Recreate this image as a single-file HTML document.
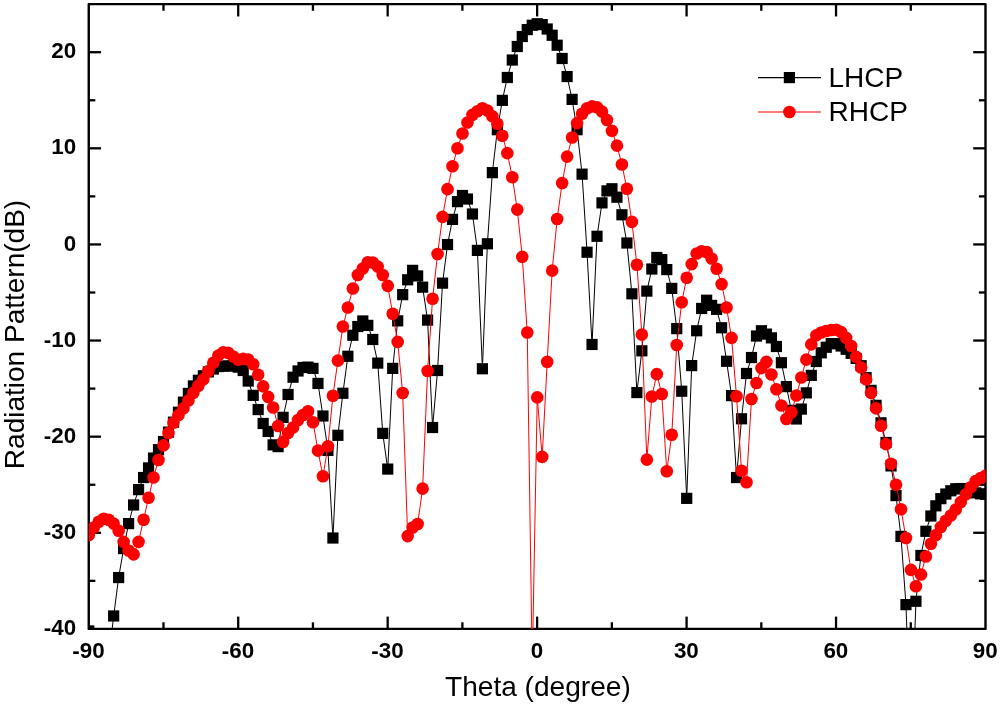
<!DOCTYPE html>
<html><head><meta charset="utf-8"><title>Radiation Pattern</title>
<style>html,body{margin:0;padding:0;background:#fff}svg{display:block}text{font-family:"Liberation Sans",Arial,sans-serif}</style></head><body>
<svg width="1000" height="704" viewBox="0 0 1000 704">
<rect width="1000" height="704" fill="#fff"/>
<defs><clipPath id="c"><rect x="88.75" y="4.15" width="896.75" height="624.75"/></clipPath></defs>
<rect x="88.75" y="4.15" width="896.75" height="624.75" fill="none" stroke="#000" stroke-width="2.4" stroke-linejoin="round"/>
<g stroke="#000" stroke-width="2.3"><line x1="163.48" y1="628.90" x2="163.48" y2="622.30"/><line x1="163.48" y1="4.15" x2="163.48" y2="10.75"/><line x1="238.21" y1="628.90" x2="238.21" y2="616.60"/><line x1="238.21" y1="4.15" x2="238.21" y2="16.45"/><line x1="312.94" y1="628.90" x2="312.94" y2="622.30"/><line x1="312.94" y1="4.15" x2="312.94" y2="10.75"/><line x1="387.67" y1="628.90" x2="387.67" y2="616.60"/><line x1="387.67" y1="4.15" x2="387.67" y2="16.45"/><line x1="462.40" y1="628.90" x2="462.40" y2="622.30"/><line x1="462.40" y1="4.15" x2="462.40" y2="10.75"/><line x1="537.12" y1="628.90" x2="537.12" y2="616.60"/><line x1="537.12" y1="4.15" x2="537.12" y2="16.45"/><line x1="611.85" y1="628.90" x2="611.85" y2="622.30"/><line x1="611.85" y1="4.15" x2="611.85" y2="10.75"/><line x1="686.58" y1="628.90" x2="686.58" y2="616.60"/><line x1="686.58" y1="4.15" x2="686.58" y2="16.45"/><line x1="761.31" y1="628.90" x2="761.31" y2="622.30"/><line x1="761.31" y1="4.15" x2="761.31" y2="10.75"/><line x1="836.04" y1="628.90" x2="836.04" y2="616.60"/><line x1="836.04" y1="4.15" x2="836.04" y2="16.45"/><line x1="910.77" y1="628.90" x2="910.77" y2="622.30"/><line x1="910.77" y1="4.15" x2="910.77" y2="10.75"/><line x1="88.75" y1="580.84" x2="95.35" y2="580.84"/><line x1="985.50" y1="580.84" x2="978.90" y2="580.84"/><line x1="88.75" y1="532.78" x2="101.05" y2="532.78"/><line x1="985.50" y1="532.78" x2="973.20" y2="532.78"/><line x1="88.75" y1="484.73" x2="95.35" y2="484.73"/><line x1="985.50" y1="484.73" x2="978.90" y2="484.73"/><line x1="88.75" y1="436.67" x2="101.05" y2="436.67"/><line x1="985.50" y1="436.67" x2="973.20" y2="436.67"/><line x1="88.75" y1="388.61" x2="95.35" y2="388.61"/><line x1="985.50" y1="388.61" x2="978.90" y2="388.61"/><line x1="88.75" y1="340.55" x2="101.05" y2="340.55"/><line x1="985.50" y1="340.55" x2="973.20" y2="340.55"/><line x1="88.75" y1="292.50" x2="95.35" y2="292.50"/><line x1="985.50" y1="292.50" x2="978.90" y2="292.50"/><line x1="88.75" y1="244.44" x2="101.05" y2="244.44"/><line x1="985.50" y1="244.44" x2="973.20" y2="244.44"/><line x1="88.75" y1="196.38" x2="95.35" y2="196.38"/><line x1="985.50" y1="196.38" x2="978.90" y2="196.38"/><line x1="88.75" y1="148.32" x2="101.05" y2="148.32"/><line x1="985.50" y1="148.32" x2="973.20" y2="148.32"/><line x1="88.75" y1="100.27" x2="95.35" y2="100.27"/><line x1="985.50" y1="100.27" x2="978.90" y2="100.27"/><line x1="88.75" y1="52.21" x2="101.05" y2="52.21"/><line x1="985.50" y1="52.21" x2="973.20" y2="52.21"/></g>
<g clip-path="url(#c)">
<polyline points="88.75,630.94 93.73,724.25 98.72,724.25 103.70,724.25 108.68,658.97 113.66,615.96 118.65,577.56 123.63,548.57 128.61,523.61 133.60,504.99 138.58,489.63 143.56,477.53 148.55,467.93 153.53,458.04 158.51,449.69 163.50,441.53 168.48,432.12 173.46,422.14 178.44,412.25 183.43,402.17 188.41,393.43 193.39,385.95 198.38,380.28 203.36,375.77 208.34,371.93 213.32,369.05 218.31,366.55 223.29,366.17 228.27,365.98 233.26,365.79 238.24,367.13 243.22,370.49 248.21,381.05 253.19,395.35 258.17,409.56 263.15,423.48 268.14,431.45 273.12,444.89 278.10,446.62 283.09,417.34 288.07,394.49 293.05,377.21 298.04,370.97 303.02,367.51 308.00,367.13 312.99,368.38 317.97,383.45 322.95,415.99 327.93,450.36 332.92,538.01 337.90,435.29 342.88,393.24 347.87,356.28 352.85,335.26 357.83,326.52 362.81,320.95 367.80,325.37 372.78,339.48 377.76,363.10 382.75,433.37 387.73,469.08 392.71,368.38 397.70,320.86 402.68,294.65 407.66,279.77 412.64,270.36 417.63,275.93 422.61,287.16 427.59,320.09 432.58,427.51 437.56,370.49 442.54,283.13 447.53,244.54 452.51,219.39 457.49,201.63 462.47,195.48 467.46,199.03 472.44,214.01 477.42,250.39 482.41,368.76 487.39,243.77 492.37,172.63 497.36,129.72 502.34,100.35 507.32,77.50 512.30,60.03 517.29,46.49 522.27,36.51 527.25,29.59 532.24,25.27 537.22,23.74 542.20,24.60 547.19,29.02 552.17,35.26 557.15,45.24 562.13,58.49 567.12,76.54 572.10,99.39 577.08,129.72 582.07,174.17 587.05,252.22 592.03,344.47 597.02,236.28 602.00,202.87 606.98,190.87 611.96,188.76 616.95,197.21 621.93,214.78 626.91,243.00 631.90,293.79 636.88,392.57 641.86,350.81 646.85,291.10 651.83,269.02 656.81,257.50 661.79,259.61 666.78,269.59 671.76,288.41 676.74,328.63 681.73,391.23 686.71,498.36 691.69,365.59 696.68,330.75 701.66,308.47 706.64,300.22 711.62,305.40 716.61,309.34 721.59,327.77 726.57,361.27 731.56,395.64 736.54,477.53 741.52,418.78 746.51,373.47 751.49,357.53 756.47,336.03 761.45,330.75 766.44,334.11 771.42,337.85 776.40,346.49 781.39,362.71 786.37,386.62 791.35,410.33 796.34,418.97 801.32,409.08 806.30,392.86 811.28,375.39 816.27,361.47 821.25,352.83 826.23,347.26 831.22,343.61 836.20,343.61 841.18,346.01 846.17,349.27 851.15,353.31 856.13,358.49 861.11,365.69 866.10,377.59 871.08,390.36 876.06,405.34 881.05,422.81 886.03,442.49 891.01,465.91 896.00,495.58 900.98,536.38 905.96,604.63 910.94,743.45 915.93,601.27 920.91,555.48 925.89,531.29 930.88,516.03 935.86,505.85 940.84,498.65 945.83,494.04 950.81,490.78 955.79,488.76 960.77,488.57 965.76,489.05 970.74,490.49 975.72,492.89 980.71,493.85 985.69,494.33" fill="none" stroke="#000" stroke-width="1" stroke-linejoin="round"/>
<g fill="#000"><rect x="83.15" y="625.34" width="11.2" height="11.2"/><rect x="108.06" y="610.36" width="11.2" height="11.2"/><rect x="113.05" y="571.96" width="11.2" height="11.2"/><rect x="118.03" y="542.97" width="11.2" height="11.2"/><rect x="123.01" y="518.01" width="11.2" height="11.2"/><rect x="128.00" y="499.39" width="11.2" height="11.2"/><rect x="132.98" y="484.03" width="11.2" height="11.2"/><rect x="137.96" y="471.93" width="11.2" height="11.2"/><rect x="142.95" y="462.33" width="11.2" height="11.2"/><rect x="147.93" y="452.44" width="11.2" height="11.2"/><rect x="152.91" y="444.09" width="11.2" height="11.2"/><rect x="157.90" y="435.93" width="11.2" height="11.2"/><rect x="162.88" y="426.52" width="11.2" height="11.2"/><rect x="167.86" y="416.54" width="11.2" height="11.2"/><rect x="172.84" y="406.65" width="11.2" height="11.2"/><rect x="177.83" y="396.57" width="11.2" height="11.2"/><rect x="182.81" y="387.83" width="11.2" height="11.2"/><rect x="187.79" y="380.35" width="11.2" height="11.2"/><rect x="192.78" y="374.68" width="11.2" height="11.2"/><rect x="197.76" y="370.17" width="11.2" height="11.2"/><rect x="202.74" y="366.33" width="11.2" height="11.2"/><rect x="207.72" y="363.45" width="11.2" height="11.2"/><rect x="212.71" y="360.95" width="11.2" height="11.2"/><rect x="217.69" y="360.57" width="11.2" height="11.2"/><rect x="222.67" y="360.38" width="11.2" height="11.2"/><rect x="227.66" y="360.19" width="11.2" height="11.2"/><rect x="232.64" y="361.53" width="11.2" height="11.2"/><rect x="237.62" y="364.89" width="11.2" height="11.2"/><rect x="242.61" y="375.45" width="11.2" height="11.2"/><rect x="247.59" y="389.75" width="11.2" height="11.2"/><rect x="252.57" y="403.96" width="11.2" height="11.2"/><rect x="257.55" y="417.88" width="11.2" height="11.2"/><rect x="262.54" y="425.85" width="11.2" height="11.2"/><rect x="267.52" y="439.29" width="11.2" height="11.2"/><rect x="272.50" y="441.02" width="11.2" height="11.2"/><rect x="277.49" y="411.74" width="11.2" height="11.2"/><rect x="282.47" y="388.89" width="11.2" height="11.2"/><rect x="287.45" y="371.61" width="11.2" height="11.2"/><rect x="292.44" y="365.37" width="11.2" height="11.2"/><rect x="297.42" y="361.91" width="11.2" height="11.2"/><rect x="302.40" y="361.53" width="11.2" height="11.2"/><rect x="307.38" y="362.78" width="11.2" height="11.2"/><rect x="312.37" y="377.85" width="11.2" height="11.2"/><rect x="317.35" y="410.39" width="11.2" height="11.2"/><rect x="322.33" y="444.76" width="11.2" height="11.2"/><rect x="327.32" y="532.41" width="11.2" height="11.2"/><rect x="332.30" y="429.69" width="11.2" height="11.2"/><rect x="337.28" y="387.64" width="11.2" height="11.2"/><rect x="342.27" y="350.68" width="11.2" height="11.2"/><rect x="347.25" y="329.66" width="11.2" height="11.2"/><rect x="352.23" y="320.92" width="11.2" height="11.2"/><rect x="357.21" y="315.35" width="11.2" height="11.2"/><rect x="362.20" y="319.77" width="11.2" height="11.2"/><rect x="367.18" y="333.88" width="11.2" height="11.2"/><rect x="372.16" y="357.50" width="11.2" height="11.2"/><rect x="377.15" y="427.77" width="11.2" height="11.2"/><rect x="382.13" y="463.48" width="11.2" height="11.2"/><rect x="387.11" y="362.78" width="11.2" height="11.2"/><rect x="392.10" y="315.26" width="11.2" height="11.2"/><rect x="397.08" y="289.05" width="11.2" height="11.2"/><rect x="402.06" y="274.17" width="11.2" height="11.2"/><rect x="407.04" y="264.76" width="11.2" height="11.2"/><rect x="412.03" y="270.33" width="11.2" height="11.2"/><rect x="417.01" y="281.56" width="11.2" height="11.2"/><rect x="421.99" y="314.49" width="11.2" height="11.2"/><rect x="426.98" y="421.91" width="11.2" height="11.2"/><rect x="431.96" y="364.89" width="11.2" height="11.2"/><rect x="436.94" y="277.53" width="11.2" height="11.2"/><rect x="441.93" y="238.94" width="11.2" height="11.2"/><rect x="446.91" y="213.79" width="11.2" height="11.2"/><rect x="451.89" y="196.03" width="11.2" height="11.2"/><rect x="456.87" y="189.88" width="11.2" height="11.2"/><rect x="461.86" y="193.43" width="11.2" height="11.2"/><rect x="466.84" y="208.41" width="11.2" height="11.2"/><rect x="471.82" y="244.79" width="11.2" height="11.2"/><rect x="476.81" y="363.16" width="11.2" height="11.2"/><rect x="481.79" y="238.17" width="11.2" height="11.2"/><rect x="486.77" y="167.03" width="11.2" height="11.2"/><rect x="491.76" y="124.12" width="11.2" height="11.2"/><rect x="496.74" y="94.75" width="11.2" height="11.2"/><rect x="501.72" y="71.90" width="11.2" height="11.2"/><rect x="506.70" y="54.43" width="11.2" height="11.2"/><rect x="511.69" y="40.89" width="11.2" height="11.2"/><rect x="516.67" y="30.91" width="11.2" height="11.2"/><rect x="521.65" y="23.99" width="11.2" height="11.2"/><rect x="526.64" y="19.67" width="11.2" height="11.2"/><rect x="531.62" y="18.14" width="11.2" height="11.2"/><rect x="536.60" y="19.00" width="11.2" height="11.2"/><rect x="541.59" y="23.42" width="11.2" height="11.2"/><rect x="546.57" y="29.66" width="11.2" height="11.2"/><rect x="551.55" y="39.64" width="11.2" height="11.2"/><rect x="556.53" y="52.89" width="11.2" height="11.2"/><rect x="561.52" y="70.94" width="11.2" height="11.2"/><rect x="566.50" y="93.79" width="11.2" height="11.2"/><rect x="571.48" y="124.12" width="11.2" height="11.2"/><rect x="576.47" y="168.57" width="11.2" height="11.2"/><rect x="581.45" y="246.62" width="11.2" height="11.2"/><rect x="586.43" y="338.87" width="11.2" height="11.2"/><rect x="591.42" y="230.68" width="11.2" height="11.2"/><rect x="596.40" y="197.27" width="11.2" height="11.2"/><rect x="601.38" y="185.27" width="11.2" height="11.2"/><rect x="606.36" y="183.16" width="11.2" height="11.2"/><rect x="611.35" y="191.61" width="11.2" height="11.2"/><rect x="616.33" y="209.18" width="11.2" height="11.2"/><rect x="621.31" y="237.40" width="11.2" height="11.2"/><rect x="626.30" y="288.19" width="11.2" height="11.2"/><rect x="631.28" y="386.97" width="11.2" height="11.2"/><rect x="636.26" y="345.21" width="11.2" height="11.2"/><rect x="641.25" y="285.50" width="11.2" height="11.2"/><rect x="646.23" y="263.42" width="11.2" height="11.2"/><rect x="651.21" y="251.90" width="11.2" height="11.2"/><rect x="656.19" y="254.01" width="11.2" height="11.2"/><rect x="661.18" y="263.99" width="11.2" height="11.2"/><rect x="666.16" y="282.81" width="11.2" height="11.2"/><rect x="671.14" y="323.03" width="11.2" height="11.2"/><rect x="676.13" y="385.63" width="11.2" height="11.2"/><rect x="681.11" y="492.76" width="11.2" height="11.2"/><rect x="686.09" y="359.99" width="11.2" height="11.2"/><rect x="691.08" y="325.15" width="11.2" height="11.2"/><rect x="696.06" y="302.87" width="11.2" height="11.2"/><rect x="701.04" y="294.62" width="11.2" height="11.2"/><rect x="706.02" y="299.80" width="11.2" height="11.2"/><rect x="711.01" y="303.74" width="11.2" height="11.2"/><rect x="715.99" y="322.17" width="11.2" height="11.2"/><rect x="720.97" y="355.67" width="11.2" height="11.2"/><rect x="725.96" y="390.04" width="11.2" height="11.2"/><rect x="730.94" y="471.93" width="11.2" height="11.2"/><rect x="735.92" y="413.18" width="11.2" height="11.2"/><rect x="740.91" y="367.87" width="11.2" height="11.2"/><rect x="745.89" y="351.93" width="11.2" height="11.2"/><rect x="750.87" y="330.43" width="11.2" height="11.2"/><rect x="755.85" y="325.15" width="11.2" height="11.2"/><rect x="760.84" y="328.51" width="11.2" height="11.2"/><rect x="765.82" y="332.25" width="11.2" height="11.2"/><rect x="770.80" y="340.89" width="11.2" height="11.2"/><rect x="775.79" y="357.11" width="11.2" height="11.2"/><rect x="780.77" y="381.02" width="11.2" height="11.2"/><rect x="785.75" y="404.73" width="11.2" height="11.2"/><rect x="790.74" y="413.37" width="11.2" height="11.2"/><rect x="795.72" y="403.48" width="11.2" height="11.2"/><rect x="800.70" y="387.26" width="11.2" height="11.2"/><rect x="805.68" y="369.79" width="11.2" height="11.2"/><rect x="810.67" y="355.87" width="11.2" height="11.2"/><rect x="815.65" y="347.23" width="11.2" height="11.2"/><rect x="820.63" y="341.66" width="11.2" height="11.2"/><rect x="825.62" y="338.01" width="11.2" height="11.2"/><rect x="830.60" y="338.01" width="11.2" height="11.2"/><rect x="835.58" y="340.41" width="11.2" height="11.2"/><rect x="840.57" y="343.67" width="11.2" height="11.2"/><rect x="845.55" y="347.71" width="11.2" height="11.2"/><rect x="850.53" y="352.89" width="11.2" height="11.2"/><rect x="855.51" y="360.09" width="11.2" height="11.2"/><rect x="860.50" y="371.99" width="11.2" height="11.2"/><rect x="865.48" y="384.76" width="11.2" height="11.2"/><rect x="870.46" y="399.74" width="11.2" height="11.2"/><rect x="875.45" y="417.21" width="11.2" height="11.2"/><rect x="880.43" y="436.89" width="11.2" height="11.2"/><rect x="885.41" y="460.31" width="11.2" height="11.2"/><rect x="890.40" y="489.98" width="11.2" height="11.2"/><rect x="895.38" y="530.78" width="11.2" height="11.2"/><rect x="900.36" y="599.03" width="11.2" height="11.2"/><rect x="910.33" y="595.67" width="11.2" height="11.2"/><rect x="915.31" y="549.88" width="11.2" height="11.2"/><rect x="920.29" y="525.69" width="11.2" height="11.2"/><rect x="925.28" y="510.43" width="11.2" height="11.2"/><rect x="930.26" y="500.25" width="11.2" height="11.2"/><rect x="935.24" y="493.05" width="11.2" height="11.2"/><rect x="940.23" y="488.44" width="11.2" height="11.2"/><rect x="945.21" y="485.18" width="11.2" height="11.2"/><rect x="950.19" y="483.16" width="11.2" height="11.2"/><rect x="955.17" y="482.97" width="11.2" height="11.2"/><rect x="960.16" y="483.45" width="11.2" height="11.2"/><rect x="965.14" y="484.89" width="11.2" height="11.2"/><rect x="970.12" y="487.29" width="11.2" height="11.2"/><rect x="975.11" y="488.25" width="11.2" height="11.2"/><rect x="980.09" y="488.73" width="11.2" height="11.2"/></g>
<polyline points="88.75,535.13 93.73,527.45 98.72,521.69 103.70,518.81 108.68,519.77 113.66,523.61 118.65,530.81 123.63,541.85 128.61,550.49 133.60,554.33 138.58,541.85 143.56,519.77 148.55,497.69 153.53,477.53 158.51,459.96 163.50,445.37 168.48,433.08 173.46,422.81 178.44,415.13 183.43,408.22 188.41,400.44 193.39,392.86 198.38,385.85 203.36,379.23 208.34,370.97 213.32,362.81 218.31,355.61 223.29,352.25 228.27,352.92 233.26,356.57 238.24,359.74 243.22,358.87 248.21,359.45 253.19,364.25 258.17,374.81 263.15,386.33 268.14,396.89 273.12,407.45 278.10,426.07 283.09,442.01 288.07,433.08 293.05,427.51 298.04,419.93 303.02,415.03 308.00,411.29 312.99,422.23 317.97,450.65 322.95,476.28 327.93,446.23 332.92,395.74 337.90,360.60 342.88,326.52 347.87,307.51 352.85,288.51 357.83,274.97 362.81,268.44 367.80,262.25 372.78,262.49 377.76,266.62 382.75,274.97 387.73,285.91 392.71,313.75 397.70,341.88 402.68,393.05 407.66,536.09 412.64,527.45 417.63,523.99 422.61,488.67 427.59,370.97 432.58,298.78 437.56,254.04 442.54,216.89 447.53,189.15 452.51,166.25 457.49,148.25 462.47,133.47 467.46,122.52 472.44,114.84 477.42,111.29 482.41,108.22 487.39,110.43 492.37,116.28 497.36,123.77 502.34,135.77 507.32,153.15 512.30,177.24 517.29,209.59 522.27,256.83 527.25,332.47 532.24,667.61 537.22,397.37 542.20,456.89 547.19,361.85 552.17,270.65 557.15,219.00 562.13,183.10 567.12,156.60 572.10,137.50 577.08,123.10 582.07,113.69 587.05,108.22 592.03,106.39 597.02,107.26 602.00,111.58 606.98,120.03 611.96,130.87 616.95,145.66 621.93,164.57 626.91,188.76 631.90,221.88 636.88,264.79 641.86,334.59 646.85,459.58 651.83,396.51 656.81,374.14 661.79,394.01 666.78,471.29 671.76,434.71 676.74,345.05 681.73,302.23 686.71,277.75 691.69,264.12 696.68,253.47 701.66,251.26 706.64,252.03 711.62,258.46 716.61,268.73 721.59,284.09 726.57,307.51 731.56,337.85 736.54,396.22 741.52,470.81 746.51,482.23 751.49,399.00 756.47,382.97 761.45,368.09 766.44,361.85 771.42,374.43 776.40,389.21 781.39,405.53 786.37,418.97 791.35,412.25 796.34,395.55 801.32,377.50 806.30,359.64 811.28,344.38 816.27,335.35 821.25,332.47 826.23,330.94 831.22,329.98 836.20,329.69 841.18,332.09 846.17,337.85 851.15,346.01 856.13,356.86 861.11,367.51 866.10,379.42 871.08,392.86 876.06,408.41 881.05,425.69 886.03,444.12 891.01,463.80 896.00,484.73 900.98,509.21 905.96,538.01 910.94,569.88 915.93,586.30 920.91,574.49 925.89,556.54 930.88,543.77 935.86,535.13 940.84,527.07 945.83,520.73 950.81,515.45 955.79,509.50 960.77,502.11 965.76,494.33 970.74,487.32 975.72,480.99 980.71,478.01 985.69,475.61" fill="none" stroke="#f00" stroke-width="1" stroke-linejoin="round"/>
<g fill="#f00"><circle cx="88.75" cy="535.13" r="6.3"/><circle cx="93.73" cy="527.45" r="6.3"/><circle cx="98.72" cy="521.69" r="6.3"/><circle cx="103.70" cy="518.81" r="6.3"/><circle cx="108.68" cy="519.77" r="6.3"/><circle cx="113.66" cy="523.61" r="6.3"/><circle cx="118.65" cy="530.81" r="6.3"/><circle cx="123.63" cy="541.85" r="6.3"/><circle cx="128.61" cy="550.49" r="6.3"/><circle cx="133.60" cy="554.33" r="6.3"/><circle cx="138.58" cy="541.85" r="6.3"/><circle cx="143.56" cy="519.77" r="6.3"/><circle cx="148.55" cy="497.69" r="6.3"/><circle cx="153.53" cy="477.53" r="6.3"/><circle cx="158.51" cy="459.96" r="6.3"/><circle cx="163.50" cy="445.37" r="6.3"/><circle cx="168.48" cy="433.08" r="6.3"/><circle cx="173.46" cy="422.81" r="6.3"/><circle cx="178.44" cy="415.13" r="6.3"/><circle cx="183.43" cy="408.22" r="6.3"/><circle cx="188.41" cy="400.44" r="6.3"/><circle cx="193.39" cy="392.86" r="6.3"/><circle cx="198.38" cy="385.85" r="6.3"/><circle cx="203.36" cy="379.23" r="6.3"/><circle cx="208.34" cy="370.97" r="6.3"/><circle cx="213.32" cy="362.81" r="6.3"/><circle cx="218.31" cy="355.61" r="6.3"/><circle cx="223.29" cy="352.25" r="6.3"/><circle cx="228.27" cy="352.92" r="6.3"/><circle cx="233.26" cy="356.57" r="6.3"/><circle cx="238.24" cy="359.74" r="6.3"/><circle cx="243.22" cy="358.87" r="6.3"/><circle cx="248.21" cy="359.45" r="6.3"/><circle cx="253.19" cy="364.25" r="6.3"/><circle cx="258.17" cy="374.81" r="6.3"/><circle cx="263.15" cy="386.33" r="6.3"/><circle cx="268.14" cy="396.89" r="6.3"/><circle cx="273.12" cy="407.45" r="6.3"/><circle cx="278.10" cy="426.07" r="6.3"/><circle cx="283.09" cy="442.01" r="6.3"/><circle cx="288.07" cy="433.08" r="6.3"/><circle cx="293.05" cy="427.51" r="6.3"/><circle cx="298.04" cy="419.93" r="6.3"/><circle cx="303.02" cy="415.03" r="6.3"/><circle cx="308.00" cy="411.29" r="6.3"/><circle cx="312.99" cy="422.23" r="6.3"/><circle cx="317.97" cy="450.65" r="6.3"/><circle cx="322.95" cy="476.28" r="6.3"/><circle cx="327.93" cy="446.23" r="6.3"/><circle cx="332.92" cy="395.74" r="6.3"/><circle cx="337.90" cy="360.60" r="6.3"/><circle cx="342.88" cy="326.52" r="6.3"/><circle cx="347.87" cy="307.51" r="6.3"/><circle cx="352.85" cy="288.51" r="6.3"/><circle cx="357.83" cy="274.97" r="6.3"/><circle cx="362.81" cy="268.44" r="6.3"/><circle cx="367.80" cy="262.25" r="6.3"/><circle cx="372.78" cy="262.49" r="6.3"/><circle cx="377.76" cy="266.62" r="6.3"/><circle cx="382.75" cy="274.97" r="6.3"/><circle cx="387.73" cy="285.91" r="6.3"/><circle cx="392.71" cy="313.75" r="6.3"/><circle cx="397.70" cy="341.88" r="6.3"/><circle cx="402.68" cy="393.05" r="6.3"/><circle cx="407.66" cy="536.09" r="6.3"/><circle cx="412.64" cy="527.45" r="6.3"/><circle cx="417.63" cy="523.99" r="6.3"/><circle cx="422.61" cy="488.67" r="6.3"/><circle cx="427.59" cy="370.97" r="6.3"/><circle cx="432.58" cy="298.78" r="6.3"/><circle cx="437.56" cy="254.04" r="6.3"/><circle cx="442.54" cy="216.89" r="6.3"/><circle cx="447.53" cy="189.15" r="6.3"/><circle cx="452.51" cy="166.25" r="6.3"/><circle cx="457.49" cy="148.25" r="6.3"/><circle cx="462.47" cy="133.47" r="6.3"/><circle cx="467.46" cy="122.52" r="6.3"/><circle cx="472.44" cy="114.84" r="6.3"/><circle cx="477.42" cy="111.29" r="6.3"/><circle cx="482.41" cy="108.22" r="6.3"/><circle cx="487.39" cy="110.43" r="6.3"/><circle cx="492.37" cy="116.28" r="6.3"/><circle cx="497.36" cy="123.77" r="6.3"/><circle cx="502.34" cy="135.77" r="6.3"/><circle cx="507.32" cy="153.15" r="6.3"/><circle cx="512.30" cy="177.24" r="6.3"/><circle cx="517.29" cy="209.59" r="6.3"/><circle cx="522.27" cy="256.83" r="6.3"/><circle cx="527.25" cy="332.47" r="6.3"/><circle cx="537.22" cy="397.37" r="6.3"/><circle cx="542.20" cy="456.89" r="6.3"/><circle cx="547.19" cy="361.85" r="6.3"/><circle cx="552.17" cy="270.65" r="6.3"/><circle cx="557.15" cy="219.00" r="6.3"/><circle cx="562.13" cy="183.10" r="6.3"/><circle cx="567.12" cy="156.60" r="6.3"/><circle cx="572.10" cy="137.50" r="6.3"/><circle cx="577.08" cy="123.10" r="6.3"/><circle cx="582.07" cy="113.69" r="6.3"/><circle cx="587.05" cy="108.22" r="6.3"/><circle cx="592.03" cy="106.39" r="6.3"/><circle cx="597.02" cy="107.26" r="6.3"/><circle cx="602.00" cy="111.58" r="6.3"/><circle cx="606.98" cy="120.03" r="6.3"/><circle cx="611.96" cy="130.87" r="6.3"/><circle cx="616.95" cy="145.66" r="6.3"/><circle cx="621.93" cy="164.57" r="6.3"/><circle cx="626.91" cy="188.76" r="6.3"/><circle cx="631.90" cy="221.88" r="6.3"/><circle cx="636.88" cy="264.79" r="6.3"/><circle cx="641.86" cy="334.59" r="6.3"/><circle cx="646.85" cy="459.58" r="6.3"/><circle cx="651.83" cy="396.51" r="6.3"/><circle cx="656.81" cy="374.14" r="6.3"/><circle cx="661.79" cy="394.01" r="6.3"/><circle cx="666.78" cy="471.29" r="6.3"/><circle cx="671.76" cy="434.71" r="6.3"/><circle cx="676.74" cy="345.05" r="6.3"/><circle cx="681.73" cy="302.23" r="6.3"/><circle cx="686.71" cy="277.75" r="6.3"/><circle cx="691.69" cy="264.12" r="6.3"/><circle cx="696.68" cy="253.47" r="6.3"/><circle cx="701.66" cy="251.26" r="6.3"/><circle cx="706.64" cy="252.03" r="6.3"/><circle cx="711.62" cy="258.46" r="6.3"/><circle cx="716.61" cy="268.73" r="6.3"/><circle cx="721.59" cy="284.09" r="6.3"/><circle cx="726.57" cy="307.51" r="6.3"/><circle cx="731.56" cy="337.85" r="6.3"/><circle cx="736.54" cy="396.22" r="6.3"/><circle cx="741.52" cy="470.81" r="6.3"/><circle cx="746.51" cy="482.23" r="6.3"/><circle cx="751.49" cy="399.00" r="6.3"/><circle cx="756.47" cy="382.97" r="6.3"/><circle cx="761.45" cy="368.09" r="6.3"/><circle cx="766.44" cy="361.85" r="6.3"/><circle cx="771.42" cy="374.43" r="6.3"/><circle cx="776.40" cy="389.21" r="6.3"/><circle cx="781.39" cy="405.53" r="6.3"/><circle cx="786.37" cy="418.97" r="6.3"/><circle cx="791.35" cy="412.25" r="6.3"/><circle cx="796.34" cy="395.55" r="6.3"/><circle cx="801.32" cy="377.50" r="6.3"/><circle cx="806.30" cy="359.64" r="6.3"/><circle cx="811.28" cy="344.38" r="6.3"/><circle cx="816.27" cy="335.35" r="6.3"/><circle cx="821.25" cy="332.47" r="6.3"/><circle cx="826.23" cy="330.94" r="6.3"/><circle cx="831.22" cy="329.98" r="6.3"/><circle cx="836.20" cy="329.69" r="6.3"/><circle cx="841.18" cy="332.09" r="6.3"/><circle cx="846.17" cy="337.85" r="6.3"/><circle cx="851.15" cy="346.01" r="6.3"/><circle cx="856.13" cy="356.86" r="6.3"/><circle cx="861.11" cy="367.51" r="6.3"/><circle cx="866.10" cy="379.42" r="6.3"/><circle cx="871.08" cy="392.86" r="6.3"/><circle cx="876.06" cy="408.41" r="6.3"/><circle cx="881.05" cy="425.69" r="6.3"/><circle cx="886.03" cy="444.12" r="6.3"/><circle cx="891.01" cy="463.80" r="6.3"/><circle cx="896.00" cy="484.73" r="6.3"/><circle cx="900.98" cy="509.21" r="6.3"/><circle cx="905.96" cy="538.01" r="6.3"/><circle cx="910.94" cy="569.88" r="6.3"/><circle cx="915.93" cy="586.30" r="6.3"/><circle cx="920.91" cy="574.49" r="6.3"/><circle cx="925.89" cy="556.54" r="6.3"/><circle cx="930.88" cy="543.77" r="6.3"/><circle cx="935.86" cy="535.13" r="6.3"/><circle cx="940.84" cy="527.07" r="6.3"/><circle cx="945.83" cy="520.73" r="6.3"/><circle cx="950.81" cy="515.45" r="6.3"/><circle cx="955.79" cy="509.50" r="6.3"/><circle cx="960.77" cy="502.11" r="6.3"/><circle cx="965.76" cy="494.33" r="6.3"/><circle cx="970.74" cy="487.32" r="6.3"/><circle cx="975.72" cy="480.99" r="6.3"/><circle cx="980.71" cy="478.01" r="6.3"/><circle cx="985.69" cy="475.61" r="6.3"/></g>
</g>
<g font-size="22.4" font-weight="bold" fill="#000"><text x="88.55" y="658.4" text-anchor="middle">-90</text><text x="238.01" y="658.4" text-anchor="middle">-60</text><text x="387.47" y="658.4" text-anchor="middle">-30</text><text x="536.92" y="658.4" text-anchor="middle">0</text><text x="686.38" y="658.4" text-anchor="middle">30</text><text x="835.84" y="658.4" text-anchor="middle">60</text><text x="985.30" y="658.4" text-anchor="middle">90</text><text x="76.1" y="635.00" text-anchor="end">-40</text><text x="76.1" y="538.88" text-anchor="end">-30</text><text x="76.1" y="442.77" text-anchor="end">-20</text><text x="76.1" y="346.65" text-anchor="end">-10</text><text x="76.1" y="250.54" text-anchor="end">0</text><text x="76.1" y="154.42" text-anchor="end">10</text><text x="76.1" y="58.31" text-anchor="end">20</text></g>
<text x="537.9" y="695.6" font-size="28.1" text-anchor="middle">Theta (degree)</text>
<text transform="translate(23.5 334.5) rotate(-90)" font-size="28" text-anchor="middle">Radiation Pattern(dB)</text>
<line x1="758" y1="77.6" x2="821" y2="77.6" stroke="#000" stroke-width="1.1"/>
<rect x="783.80" y="72.00" width="11.2" height="11.2" fill="#000"/>
<line x1="758" y1="112" x2="821" y2="112" stroke="#f00" stroke-width="1.1"/>
<circle cx="789.4" cy="112" r="6.3" fill="#f00"/>
<text x="828.5" y="87" font-size="28">LHCP</text>
<text x="828.5" y="121" font-size="28">RHCP</text>
</svg></body></html>
